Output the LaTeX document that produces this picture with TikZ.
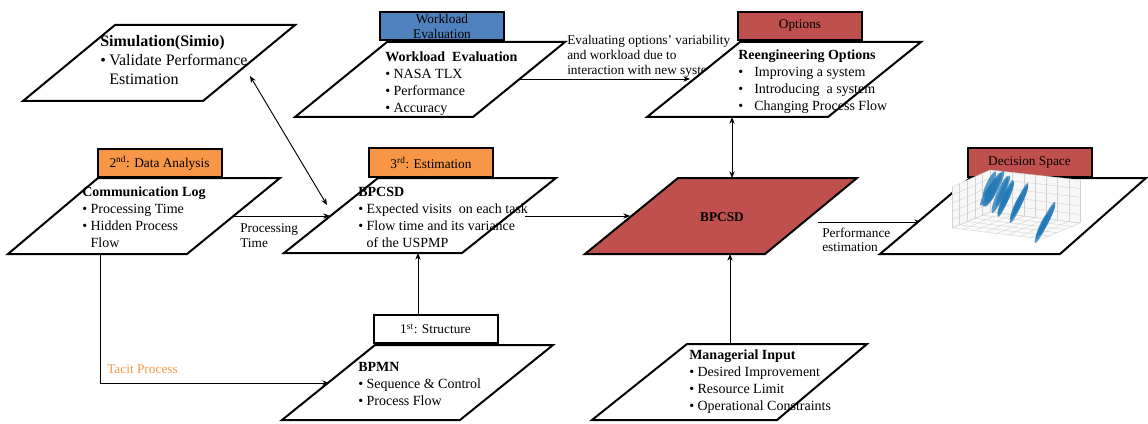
\documentclass[tikz,border=0pt]{standalone}
\usepackage{fontspec}
\setmainfont{Liberation Serif}
\usetikzlibrary{arrows.meta,calc}
\definecolor{tabblue}{HTML}{4F81BD}
\definecolor{tabred}{HTML}{C0504D}
\definecolor{taborange}{HTML}{F79646}
\definecolor{mplblue}{HTML}{1F77B4}
\newcommand{\bul}{\textbullet\hspace{2.6pt}}
\newcommand{\bulind}{\phantom{\textbullet}\hspace{2.6pt}}
\newcommand{\wbul}{\makebox[12pt][l]{\textbullet}}
\begin{document}
\begin{tikzpicture}[x=0.75pt,y=-0.75pt,
  para/.style={draw=black, line width=1.5pt, fill=white, line join=miter},
  tabbox/.style={draw=black, line width=1.5pt, minimum width=93pt, minimum height=21pt,
     inner sep=0pt, font=\fontsize{10}{11.25}\selectfont, align=center},
  body/.style={anchor=base west, inner sep=0pt, font=\fontsize{10.5}{12.75}\selectfont},
  lbl/.style={anchor=base west, inner sep=0pt, font=\fontsize{10}{11.5}\selectfont},
  conn/.style={line width=0.7pt, -{Stealth[length=5pt,width=4pt]}},
  conntwo/.style={line width=0.7pt, {Stealth[length=5pt,width=4pt]}-{Stealth[length=5pt,width=4pt]}},
  gridline/.style={draw=gray!35, line width=0.3pt},
  streak/.style={fill=mplblue, fill opacity=0.75}
]
\useasboundingbox (0,0) rectangle (1148,424);

% ---------- connector end points ----------
\coordinate (simE) at (250,76);
\coordinate (estNW) at (327,205);
\coordinate (wlE) at (520,79);
\coordinate (optW) at (690,79);
\coordinate (comE) at (233,216);
\coordinate (estW) at (330,216);
\coordinate (estE) at (525,216);
\coordinate (redW) at (630,216);
\coordinate (optS) at (732,117);
\coordinate (redN) at (732,178);
\coordinate (mgrN) at (730,344);
\coordinate (redS) at (730,254);
\coordinate (redE) at (818,222);
\coordinate (decW) at (921,222);
\coordinate (comS) at (100,254);
\coordinate (bpmnW) at (329,383);
\coordinate (strN) at (418,315);
\coordinate (estS) at (418,253);

% ---------- connectors ----------
\draw[conntwo] (simE) -- (estNW);
\draw[conn] (wlE) -- (optW);
\draw[conn] (comE) -- (estW);
\draw[conn] (estE) -- (redW);
\draw[conntwo] (optS) -- (redN);
\draw[conn] (mgrN) -- (redS);
\draw[conn] (redE) -- (decW);
\draw[conn] (comS) |- (bpmnW);
\draw[conn] (strN) -- (estS);

% label partly hidden by the Options box
\node[lbl] (evalLbl) at (567,45) {\begin{tabular}[t]{@{}l@{}}Evaluating options' variability\\[-0.5pt] and workload due to\\[-0.5pt] interaction with new system\end{tabular}};

% ---------- parallelograms ----------
\draw[para] (115,25) -- (295,25) -- (203,101) -- (23,101) -- cycle;
\draw[para] (387,42) -- (565,42) -- (473,117) -- (295,117) -- cycle;
\draw[para] (740,42) -- (921,42) -- (828,117) -- (647,117) -- cycle;
\draw[para] (98,178) -- (280,178) -- (187,254) -- (8,254) -- cycle;
\draw[para] (378,178) -- (556,178) -- (462,253) -- (284,253) -- cycle;
\draw[para, fill=tabred] (678,178) -- (857,178) -- (765,254) -- (585,254) -- cycle;
\draw[para] (970,178) -- (1146,178) -- (1060,254) -- (880,254) -- cycle;
\draw[para] (375,345) -- (553,345) -- (460,420) -- (282,420) -- cycle;
\draw[para] (687,344) -- (867,344) -- (777,420) -- (592,420) -- cycle;

% ---------- tabs ----------
\node[tabbox, fill=tabblue] (tabWL) at (442,26) {Workload\\Evaluation};
\node[tabbox, fill=tabred] (tabOpt) at (800,26) {Options};
\node[tabbox, fill=taborange] (tabDA) at (159.5,163) {2\textsuperscript{nd}: Data Analysis};
\node[tabbox, fill=taborange] (tabEst) at (431,162.5) {3\textsuperscript{rd}: Estimation};
\node[tabbox, fill=tabred] (tabDec) at (1029.5,162.5) {Decision Space};
\node[tabbox, fill=white] (tabStr) at (435.5,329) {1\textsuperscript{st}: Structure};

% ---------- box texts ----------
\node[body, font=\fontsize{12}{14.25}\selectfont] (simT) at (100,47) {\begin{tabular}[t]{@{}l@{}}\textbf{Simulation(Simio)}\\ \bul Validate Performance\\ \bulind Estimation\end{tabular}};
\node[body] (wlT) at (385,62) {\begin{tabular}[t]{@{}l@{}}\textbf{Workload\ \ Evaluation}\\ \bul NASA TLX\\ \bul Performance\\ \bul Accuracy\end{tabular}};
\node[body] (optT) at (738,60) {\begin{tabular}[t]{@{}l@{}}\textbf{Reengineering Options}\\ \wbul Improving a system\\ \wbul Introducing\ \ a system\\ \wbul Changing Process Flow\end{tabular}};
\node[body] (comT) at (82,196) {\begin{tabular}[t]{@{}l@{}}\textbf{Communication Log}\\ \bul Processing Time\\ \bul Hidden Process\\ \bulind Flow\end{tabular}};
\node[body] (estT) at (358,196) {\begin{tabular}[t]{@{}l@{}}\textbf{BPCSD}\\ \bul Expected visits\ \ on each task\\ \bul Flow time and its variance\\ \bulind of the USPMP\end{tabular}};
\node[font=\fontsize{10}{12}\selectfont\bfseries, inner sep=0pt] (redT) at (722,217) {BPCSD};
\node[body] (bpmnT) at (358,371) {\begin{tabular}[t]{@{}l@{}}\textbf{BPMN}\\ \bul Sequence \& Control\\ \bul Process Flow\end{tabular}};
\node[body] (mgrT) at (689,359) {\begin{tabular}[t]{@{}l@{}}\textbf{Managerial Input}\\ \bul Desired Improvement\\ \bul Resource Limit\\ \bul Operational Constraints\end{tabular}};

% ---------- connector labels ----------
\node[lbl] (ptLbl) at (240,232) {\begin{tabular}[t]{@{}l@{}}Processing\\ Time\end{tabular}};
\node[lbl] (peLbl) at (822,237) {\begin{tabular}[t]{@{}l@{}}Performance\\[-1pt] estimation\end{tabular}};
\node[lbl, text=taborange] (tpLbl) at (107,373) {Tacit Process};

% ---------- decision space plot ----------
\coordinate (pTL) at (952,187);
\coordinate (pB) at (990,170);
\coordinate (pBb) at (990,212);
\coordinate (pBL) at (952,228);
\coordinate (pTR) at (1080,180);
\coordinate (pBR) at (1080,223);
\coordinate (pF) at (1042,239);
\fill[gray!6] (pTL) -- (pB) -- (pBb) -- (pBL) -- cycle;
\fill[gray!6] (pB) -- (pTR) -- (pBR) -- (pBb) -- cycle;
\fill[gray!4] (pBL) -- (pBb) -- (pBR) -- (pF) -- cycle;
\foreach \t in {0,0.2,0.4,0.6,0.8,1} {
  \draw[gridline] ($(pTL)!\t!(pB)$) -- ($(pBL)!\t!(pBb)$);
  \draw[gridline] ($(pTL)!\t!(pBL)$) -- ($(pB)!\t!(pBb)$);
  \draw[gridline] ($(pB)!\t!(pBb)$) -- ($(pTR)!\t!(pBR)$);
}
\foreach \t in {0,0.125,0.25,0.375,0.5,0.625,0.75,0.875,1} {
  \draw[gridline] ($(pB)!\t!(pTR)$) -- ($(pBb)!\t!(pBR)$);
  \draw[gridline] ($(pBL)!\t!(pF)$) -- ($(pBb)!\t!(pBR)$);
}
\foreach \t in {0,0.2,0.4,0.6,0.8,1} {
  \draw[gridline] ($(pBL)!\t!(pBb)$) -- ($(pF)!\t!(pBR)$);
}
% streaks of the scatter plot
\foreach \qx/\qy/\qang/\qa/\qb in {993/189.5/65/19/3.5, 996/187/64/18/3, 990/192/66/16/3, 1000/194.5/67/20/3.5, 1003/191/66/17/2.5, 989.5/184/64/14/3, 986/195/63/12/2.5, 1005.5/198.5/68/20/3, 1008/195/67/15/2.5, 1003/202/69/14/2.5, 1019/203/66/22/3, 1021/200/65/16/2.5, 1016/207/67/14/2.5, 1045/222.5/64/23/3, 1047/220/63/17/2.5, 1042/226/65/14/2.5} {
  \fill[streak, rotate around={\qang:(\qx,\qy)}] (\qx,\qy) ellipse [x radius=\qa, y radius=\qb];
}
\end{tikzpicture}
\end{document}
